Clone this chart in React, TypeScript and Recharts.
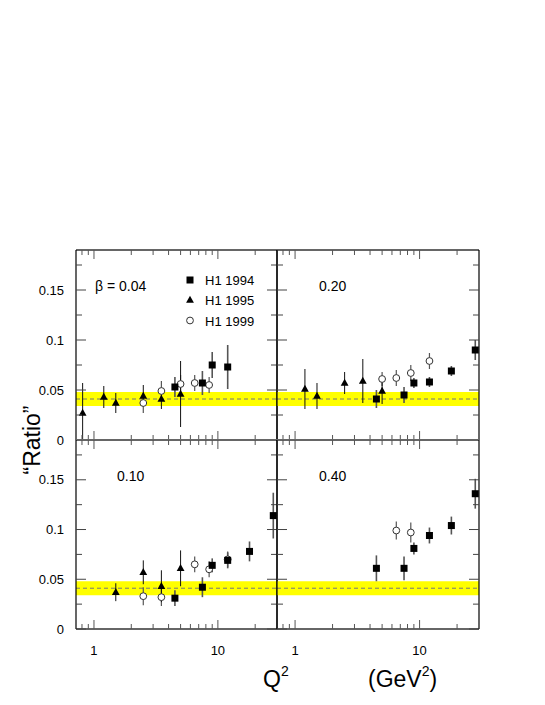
import React from 'react';
import {
  ComposedChart,
  Scatter,
  XAxis,
  YAxis,
  ErrorBar,
  ReferenceArea,
  ReferenceLine,
  Customized,
} from 'recharts';

type Pt = { q2: number; r: number; e: number };

// ---------- axis settings ----------
const Q2_DOMAIN: [number, number] = [0.716, 30];
const RATIO_DOMAIN: [number, number] = [0, 0.19];
const X_TICKS = [0.8, 0.9, 1, 2, 3, 4, 5, 6, 7, 8, 9, 10, 20];
const X_LABEL_TICKS = [1, 10];
const Y_TICKS = [0, 0.025, 0.05, 0.075, 0.1, 0.125, 0.15, 0.175];
const Y_LABEL_TICKS = [0, 0.05, 0.1, 0.15];

// yellow band (expectation) and its central value
const BAND_LOW = 0.034;
const BAND_HIGH = 0.048;
const BAND_CENTER = 0.041;

// ---------- data: beta = 0.04 ----------
const b004_1994: Pt[] = [
  { q2: 4.5, r: 0.053, e: 0.01 },
  { q2: 7.5, r: 0.057, e: 0.012 },
  { q2: 9, r: 0.075, e: 0.013 },
  { q2: 12, r: 0.073, e: 0.022 },
];
const b004_1995: Pt[] = [
  { q2: 0.81, r: 0.027, e: 0.03 },
  { q2: 1.2, r: 0.043, e: 0.011 },
  { q2: 1.5, r: 0.037, e: 0.01 },
  { q2: 2.5, r: 0.044, e: 0.011 },
  { q2: 3.5, r: 0.041, e: 0.01 },
  { q2: 5, r: 0.046, e: 0.033 },
];
const b004_1999: Pt[] = [
  { q2: 2.5, r: 0.037, e: 0.01 },
  { q2: 3.5, r: 0.049, e: 0.01 },
  { q2: 5, r: 0.056, e: 0.009 },
  { q2: 6.5, r: 0.057, e: 0.008 },
  { q2: 8.5, r: 0.055, e: 0.008 },
];

// ---------- data: beta = 0.20 ----------
const b020_1994: Pt[] = [
  { q2: 4.5, r: 0.041, e: 0.009 },
  { q2: 7.5, r: 0.045, e: 0.008 },
  { q2: 9, r: 0.057, e: 0.005 },
  { q2: 12, r: 0.058, e: 0.005 },
  { q2: 18, r: 0.069, e: 0.005 },
  { q2: 28, r: 0.09, e: 0.01 },
];
const b020_1995: Pt[] = [
  { q2: 1.2, r: 0.051, e: 0.02 },
  { q2: 1.5, r: 0.044, e: 0.013 },
  { q2: 2.5, r: 0.057, e: 0.011 },
  { q2: 3.5, r: 0.059, e: 0.022 },
  { q2: 5, r: 0.049, e: 0.013 },
];
const b020_1999: Pt[] = [
  { q2: 5, r: 0.061, e: 0.007 },
  { q2: 6.5, r: 0.062, e: 0.008 },
  { q2: 8.5, r: 0.067, e: 0.008 },
  { q2: 12, r: 0.079, e: 0.008 },
];

// ---------- data: beta = 0.10 ----------
const b010_1994: Pt[] = [
  { q2: 4.5, r: 0.031, e: 0.008 },
  { q2: 7.5, r: 0.042, e: 0.01 },
  { q2: 9, r: 0.064, e: 0.007 },
  { q2: 12, r: 0.069, e: 0.008 },
  { q2: 18, r: 0.078, e: 0.01 },
  { q2: 28, r: 0.114, e: 0.023 },
];
const b010_1995: Pt[] = [
  { q2: 1.5, r: 0.037, e: 0.009 },
  { q2: 2.5, r: 0.057, e: 0.012 },
  { q2: 3.5, r: 0.043, e: 0.016 },
  { q2: 5, r: 0.061, e: 0.018 },
];
const b010_1999: Pt[] = [
  { q2: 2.5, r: 0.033, e: 0.009 },
  { q2: 3.5, r: 0.032, e: 0.009 },
  { q2: 6.5, r: 0.065, e: 0.008 },
  { q2: 8.5, r: 0.06, e: 0.008 },
  { q2: 12, r: 0.07, e: 0.008 },
];

// ---------- data: beta = 0.40 ----------
const b040_1994: Pt[] = [
  { q2: 4.5, r: 0.061, e: 0.013 },
  { q2: 7.5, r: 0.061, e: 0.012 },
  { q2: 9, r: 0.081, e: 0.006 },
  { q2: 12, r: 0.094, e: 0.008 },
  { q2: 18, r: 0.104, e: 0.009 },
  { q2: 28, r: 0.136, e: 0.015 },
];
const b040_1995: Pt[] = [];
const b040_1999: Pt[] = [
  { q2: 6.5, r: 0.099, e: 0.009 },
  { q2: 8.5, r: 0.097, e: 0.01 },
];

const LEGEND_LABELS = ['H1 1994', 'H1 1995', 'H1 1999'];

// ---------- layout ----------
const PAGE_W = 545;
const PAGE_H = 705;
const COL_X = [76, 277, 479];
const ROW_Y = [250, 440, 629];
const Y_AXIS_W = 30;
const X_AXIS_H = 30;
const FONT = '"Liberation Sans", Arial, Helvetica, sans-serif';

const withErr = (d: Pt[]) => d.map((p) => ({ ...p, err: [Math.min(p.e, p.r), p.e] }));

const SquareShape = (p: any) =>
  p.cx == null ? <g /> : <rect x={p.cx - 3.5} y={p.cy - 3.5} width={7} height={7} fill="#000" />;
const TriShape = (p: any) =>
  p.cx == null ? (
    <g />
  ) : (
    <polygon
      points={`${p.cx},${p.cy - 4.2} ${p.cx - 3.9},${p.cy + 2.8} ${p.cx + 3.9},${p.cy + 2.8}`}
      fill="#000"
    />
  );
const CircShape = (p: any) =>
  p.cx == null ? <g /> : <circle cx={p.cx} cy={p.cy} r={3.4} fill="#fff" stroke="#333" strokeWidth={1} />;

type PanelProps = {
  col: number;
  row: number;
  label: string;
  labelX: number;
  labelY: number;
  h1994: Pt[];
  h1995: Pt[];
  h1999: Pt[];
  legend?: boolean;
  titles?: boolean;
};

function Panel({ col, row, label, labelX, labelY, h1994, h1995, h1999, legend, titles }: PanelProps) {
  const left = COL_X[col];
  const right = COL_X[col + 1];
  const top = ROW_Y[row];
  const bottom = ROW_Y[row + 1];
  const showX = row === 1;
  const showY = col === 0;
  const margin = {
    top,
    left: left - Y_AXIS_W,
    right: PAGE_W - right,
    bottom: PAGE_H - bottom - X_AXIS_H,
  };

  const XTick = (p: any) => {
    const x = p.x;
    const v = p.payload.value;
    const major = X_LABEL_TICKS.includes(v);
    const len = major ? 9 : 5;
    return (
      <g>
        <line x1={x} x2={x} y1={bottom} y2={bottom - len} stroke="#555" strokeWidth={1} />
        <line x1={x} x2={x} y1={top} y2={top + len} stroke="#555" strokeWidth={1} />
        {showX && major ? (
          <text x={x} y={bottom + 26} textAnchor="middle" fontSize={13} fontFamily={FONT} fill="#000">
            {String(v)}
          </text>
        ) : null}
      </g>
    );
  };

  const YTick = (p: any) => {
    const y = p.y;
    const v = p.payload.value;
    const major = Y_LABEL_TICKS.includes(v);
    const len = major ? 10 : 6;
    return (
      <g>
        <line x1={left} x2={left + len} y1={y} y2={y} stroke="#444" strokeWidth={1} />
        <line x1={right} x2={right - len} y1={y} y2={y} stroke="#444" strokeWidth={1} />
        {showY && major ? (
          <text x={left - 12} y={y + 4.5} textAnchor="end" fontSize={13} fontFamily={FONT} fill="#000">
            {String(v)}
          </text>
        ) : null}
      </g>
    );
  };

  const Labels = () => (
    <g fontFamily={FONT} fill="#000">
      <text x={labelX} y={labelY} fontSize={14}>
        {label}
      </text>
      {legend ? (
        <g>
          <rect x={186.5} y={276.5} width={7} height={7} fill="#000" />
          <polygon points="190,295.8 186.1,302.8 193.9,302.8" fill="#000" />
          <circle cx={190} cy={320.5} r={3.4} fill="#fff" stroke="#333" strokeWidth={1} />
          <text x={205} y={285} fontSize={13}>
            {LEGEND_LABELS[0]}
          </text>
          <text x={205} y={305} fontSize={13}>
            {LEGEND_LABELS[1]}
          </text>
          <text x={205} y={325.5} fontSize={13}>
            {LEGEND_LABELS[2]}
          </text>
        </g>
      ) : null}
      {titles ? (
        <g>
          <text
            x={40}
            y={440}
            fontSize={23}
            textAnchor="middle"
            transform="rotate(-90 40 440)"
          >
            “Ratio”
          </text>
          <text x={263} y={687} fontSize={23}>
            Q<tspan dy={-11} fontSize={14}>2</tspan>
          </text>
          <text x={368} y={687} fontSize={23}>
            (GeV<tspan dy={-11} fontSize={14}>2</tspan>
            <tspan dy={11} fontSize={23}>)</tspan>
          </text>
        </g>
      ) : null}
    </g>
  );

  return (
    <div style={{ position: 'absolute', left: 0, top: 0 }}>
      <ComposedChart width={PAGE_W} height={PAGE_H} margin={margin}>
        <XAxis
          dataKey="q2"
          type="number"
          scale="log"
          domain={Q2_DOMAIN}
          ticks={X_TICKS}
          interval={0}
          height={X_AXIS_H}
          axisLine={false}
          tickLine={false}
          tickSize={0}
          tickMargin={0}
          tick={XTick}
        />
        <YAxis
          dataKey="r"
          type="number"
          domain={RATIO_DOMAIN}
          ticks={Y_TICKS}
          interval={0}
          width={Y_AXIS_W}
          axisLine={false}
          tickLine={false}
          tickSize={0}
          tickMargin={0}
          tick={YTick}
        />
        <ReferenceArea y1={BAND_LOW} y2={BAND_HIGH} fill="#ffff00" fillOpacity={1} stroke="none" />
        <ReferenceLine y={BAND_CENTER} stroke="#777" strokeWidth={1} strokeDasharray="4 3" />
        <Scatter data={withErr(h1999)} shape={CircShape} isAnimationActive={false}>
          <ErrorBar dataKey="err" direction="y" width={0} stroke="#555" strokeWidth={1.2} isAnimationActive={false} />
        </Scatter>
        <Scatter data={withErr(h1995)} shape={TriShape} isAnimationActive={false}>
          <ErrorBar dataKey="err" direction="y" width={0} stroke="#111" strokeWidth={1} isAnimationActive={false} />
        </Scatter>
        <Scatter data={withErr(h1994)} shape={SquareShape} isAnimationActive={false}>
          <ErrorBar dataKey="err" direction="y" width={0} stroke="#555" strokeWidth={1.6} isAnimationActive={false} />
        </Scatter>
        <ReferenceLine y={RATIO_DOMAIN[0]} stroke="#666" strokeWidth={2} ifOverflow="visible" />
        <ReferenceLine y={RATIO_DOMAIN[1]} stroke="#666" strokeWidth={2} ifOverflow="visible" />
        <ReferenceLine x={Q2_DOMAIN[0]} stroke="#000" strokeWidth={1.2} ifOverflow="visible" />
        <ReferenceLine x={Q2_DOMAIN[1]} stroke="#000" strokeWidth={1.2} ifOverflow="visible" />
        <Customized component={Labels} />
      </ComposedChart>
    </div>
  );
}

export default function App() {
  return (
    <div style={{ position: 'absolute', left: 0, top: 0, width: PAGE_W, height: PAGE_H, background: '#fff' }}>
      <Panel col={0} row={0} label="β = 0.04" labelX={95} labelY={291} h1994={b004_1994} h1995={b004_1995} h1999={b004_1999} legend />
      <Panel col={1} row={0} label="0.20" labelX={319} labelY={291} h1994={b020_1994} h1995={b020_1995} h1999={b020_1999} />
      <Panel col={0} row={1} label="0.10" labelX={117} labelY={481} h1994={b010_1994} h1995={b010_1995} h1999={b010_1999} titles />
      <Panel col={1} row={1} label="0.40" labelX={319} labelY={481} h1994={b040_1994} h1995={b040_1995} h1999={b040_1999} />
    </div>
  );
}
